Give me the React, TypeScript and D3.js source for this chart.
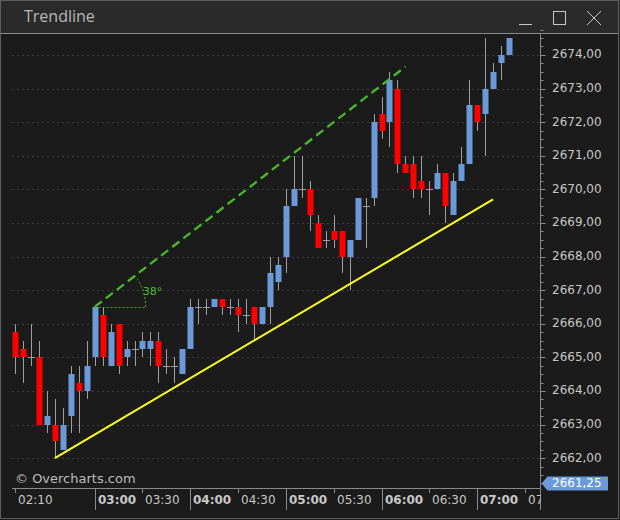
import React from "react";
import * as d3 from "d3";

const times = [
  "02:10","02:15","02:20","02:25","02:30","02:35","02:40","02:45","02:50","02:55",
  "03:00","03:05","03:10","03:15","03:20","03:25","03:30","03:35","03:40","03:45","03:50","03:55",
  "04:00","04:05","04:10","04:15","04:20","04:25","04:30","04:35","04:40","04:45","04:50","04:55",
  "05:00","05:05","05:10","05:15","05:20","05:25","05:30","05:35","05:40","05:45","05:50","05:55",
  "06:00","06:05","06:10","06:15","06:20","06:25","06:30","06:35","06:40","06:45","06:50","06:55",
  "07:00","07:05","07:10","07:15","07:20",
];
const opens = [
  2665.75,2665.25,2665,2665,2663,2663,2662.25,2663.25,2664.25,2664,
  2665,2666.25,2664.75,2666,2665,2665.25,2665.25,2665.25,2665.5,2664.75,2664.75,2664.5,
  2665.25,2666.5,2666.5,2666.5,2666.75,2666.5,2666.5,2666.25,2666.5,2666,2666.5,2667.25,
  2668,2669.5,2670,2670,2669,2668.5,2668.75,2668.75,2668,2668.5,2669.5,2669.75,
  2672.25,2672,2673,2670.75,2670.75,2670.25,2670,2670,2670.5,2669.25,2670.25,2670.75,
  2672.5,2672.25,2673,2673.75,2674,
];
const highs = [
  2666,2665.5,2666,2665.5,2664,2663.75,2663.5,2664.75,2664.75,2665.5,
  2666.5,2666.5,2666,2666,2665.5,2665.5,2665.75,2665.75,2665.75,2665.25,2665,2665.25,
  2666.75,2666.75,2666.75,2666.75,2666.75,2666.75,2666.75,2666.75,2666.5,2666.5,2668,2668,
  2670,2671,2671,2670.25,2669.25,2668.75,2669.25,2668.75,2668.5,2669.75,2669.75,2672.25,
  2672.75,2673.5,2673.25,2671,2671,2671,2670.25,2670.75,2670.5,2670.5,2671.25,2673.25,
  2672.5,2674.5,2673.75,2674.25,2674.5,
];
const lows = [
  2664.5,2664.25,2664.75,2663,2662.75,2662,2662.25,2662.75,2662.75,2663.75,
  2664.75,2664.75,2664.75,2664.5,2664.75,2664.75,2665,2664.75,2664.25,2664.5,2664.25,2664.5,
  2665.25,2666,2666.25,2666.5,2666.25,2666.25,2665.75,2666,2665.5,2666,2666,2667,
  2667.5,2669.5,2669.75,2668.75,2668.25,2668.25,2668.25,2667.5,2667,2668.5,2668.25,2669.5,
  2671.5,2671.25,2670.5,2670.5,2669.75,2669.75,2669.25,2670,2669,2669.25,2670.25,2670.75,
  2671.75,2671,2673,2673.25,2674,
];
const closes = [
  2665,2665,2665,2663,2663.25,2662.5,2663,2664.5,2664,2664.75,
  2666.5,2665,2665.75,2664.75,2665.25,2665.25,2665.5,2665.5,2664.75,2664.75,2664.75,2665.25,
  2666.5,2666.5,2666.5,2666.75,2666.5,2666.5,2666.25,2666.25,2666,2666.5,2667.5,2667.75,
  2669.5,2670,2670,2669.25,2668.25,2668.5,2668.5,2668,2668.5,2669.75,2669.5,2672,
  2671.75,2673.25,2670.75,2670.5,2670,2670,2670,2670.5,2669.5,2670.25,2670.75,2672.5,
  2672,2673,2673.5,2674,2674.5,
];
const priceTicks = [2662,2663,2664,2665,2666,2667,2668,2669,2670,2671,2672,2673,2674];
const timeTicks = ["02:10","03:00","03:30","04:00","04:30","05:00","05:30","06:00","06:30","07:00","07:30"];
const yellowLine = [{ t: "02:35", p: 2662.0 }, { t: "07:10", p: 2669.7 }];
const greenLine = [{ t: "03:00", p: 2666.5 }, { t: "06:15", p: 2673.65 }];
const markerPrice = 2661.25;
const title = "Trendline";
const watermark = "© Overcharts.com";

const toMin = (s: string) => {
  const [h, m] = s.split(":").map(Number);
  return h * 60 + m;
};

const W = 620, H = 520;
const plotLeft = 12, plotRight = 540.5, axisY = 488.5, plotTop = 34;
const FONT = "'DejaVu Sans', Verdana, sans-serif";

export default function App() {
  const x = d3.scaleLinear().domain([toMin(times[0]), toMin(times[times.length - 1])]).range([15, 509]);
  const y = d3.scaleLinear().domain([2662, 2674]).range([458.2, 54.9]);
  const fmt = (v: number) => d3.format(".2f")(v).replace(".", ",");

  const minor = d3.range(2661.25, 2674.76, 0.25);

  const blue = "#6a9bd8";
  const red = "#ff0000";
  const wick = "#a0a0a0";
  const green = "#48bb26";

  const g0 = { x: x(toMin(greenLine[0].t)), y: y(greenLine[0].p) };
  const g1 = { x: x(toMin(greenLine[1].t)), y: y(greenLine[1].p) };
  const ang = Math.atan2(g0.y - g1.y, g1.x - g0.x);
  const R = 51;
  const arcEnd = { x: g0.x + R * Math.cos(ang), y: g0.y - R * Math.sin(ang) };
  const arcPath = `M${g0.x + R},${g0.y} A${R},${R} 0 0 0 ${arcEnd.x},${arcEnd.y}`;
  const angDeg = Math.round((ang * 180) / Math.PI);

  const my = y(markerPrice);

  return (
    <svg width={W} height={H} style={{ position: "absolute", left: 0, top: 0, display: "block" }}>
      <defs>
        <clipPath id="xlab">
          <rect x={0} y={489} width={plotRight} height={30} />
        </clipPath>
      </defs>
      <rect x={0} y={0} width={W} height={H} fill="#1b1b1b" />
      <rect x={0} y={0} width={W} height={33} fill="#2a2a2a" />
      <line x1={1} x2={619} y1={33.5} y2={33.5} stroke="#8a8a8a" />
      <rect x={0.5} y={0.5} width={618} height={518} fill="none" stroke="#5e5e5e" />
      <text x={24} y={18} dominantBaseline="middle" fontFamily="'Open Sans', sans-serif" fontSize={16} fill="#b8b8b8">{title}</text>
      {/* window controls */}
      <line x1={519} x2={532} y1={24.5} y2={24.5} stroke="#c8c8c8" />
      <rect x={553.5} y={11.5} width={12} height={13} fill="none" stroke="#c8c8c8" />
      <line x1={587} y1={11} x2={601} y2={25} stroke="#c8c8c8" />
      <line x1={601} y1={11} x2={587} y2={25} stroke="#c8c8c8" />

      {/* grid */}
      {priceTicks.map((p) => (
        <line key={"g" + p} x1={plotLeft} x2={plotRight} y1={Math.round(y(p)) + 0.5} y2={Math.round(y(p)) + 0.5}
          stroke="#3e3e3e" strokeDasharray="2,3" />
      ))}

      {/* candles */}
      {times.map((t, i) => {
        const cx = Math.round(x(toMin(t)));
        const o = opens[i], c = closes[i];
        const top = Math.round(y(Math.max(o, c)));
        const bot = Math.round(y(Math.min(o, c)));
        return (
          <g key={t}>
            <line x1={cx + 0.5} x2={cx + 0.5} y1={Math.round(y(highs[i]))} y2={Math.round(y(lows[i]))} stroke={wick} />
            {o === c ? (
              <line x1={cx - 3} x2={cx + 4} y1={top + 0.5} y2={top + 0.5} stroke={wick} />
            ) : (
              <rect x={cx - 2.5} y={top} width={6} height={bot - top} fill={c > o ? blue : red} />
            )}
          </g>
        );
      })}

      {/* trendlines */}
      <line x1={x(toMin(yellowLine[0].t))} y1={y(yellowLine[0].p)} x2={x(toMin(yellowLine[1].t))} y2={y(yellowLine[1].p)}
        stroke="#ffff1e" strokeWidth={2} />
      <line x1={g0.x} y1={g0.y} x2={g1.x} y2={g1.y} stroke={green} strokeWidth={2.3} strokeDasharray="9,5" />
      <line x1={g0.x} y1={g0.y + 0.5} x2={g0.x + R} y2={g0.y + 0.5} stroke={green} strokeWidth={1} strokeDasharray="2,2" />
      <path d={arcPath} fill="none" stroke={green} strokeWidth={1} strokeDasharray="2,2" />
      <text x={g0.x + R - 3} y={g0.y - 15} dominantBaseline="middle" fontFamily={FONT} fontSize={11} fill={green}>{angDeg}°</text>

      {/* watermark */}
      <text x={15} y={479} dominantBaseline="middle" fontFamily={FONT} fontSize={13} fill="#bdbdbd">{watermark}</text>

      {/* y axis */}
      <line x1={plotRight} x2={plotRight} y1={plotTop} y2={510} stroke="#8a8a8a" />
      {minor.map((p) => (
        <line key={"m" + p} x1={plotRight} x2={plotRight + (Number.isInteger(p) ? 5 : 3)} y1={Math.round(y(p)) + 0.5} y2={Math.round(y(p)) + 0.5} stroke="#8a8a8a" />
      ))}
      {priceTicks.map((p) => (
        <text key={"yl" + p} x={552} y={y(p)} dominantBaseline="middle" fontFamily={FONT} fontSize={12} fill="#c8c8c8">{fmt(p)}</text>
      ))}
      <path d={`M${plotRight + 1},${my} L${plotRight + 7},${my - 7} L608,${my - 7} L608,${my + 7} L${plotRight + 7},${my + 7} Z`} fill={blue} />
      <text x={552} y={my} dominantBaseline="middle" fontFamily={FONT} fontSize={12} fill="#ffffff">{fmt(markerPrice)}</text>

      {/* x axis */}
      <line x1={plotLeft} x2={plotRight} y1={axisY} y2={axisY} stroke="#8a8a8a" />
      <g clipPath="url(#xlab)">
        {timeTicks.map((t) => {
          const tx = Math.round(x(toMin(t))) + 0.5;
          const hour = t.endsWith(":00");
          return (
            <g key={"xt" + t}>
              <line x1={tx} x2={tx} y1={axisY} y2={hour ? 510 : 493} stroke="#8a8a8a" />
              <text x={tx + 2.5} y={500} dominantBaseline="middle" fontFamily={FONT} fontSize={12}
                fontWeight={hour ? "bold" : "normal"} fill="#c8c8c8">{t}</text>
            </g>
          );
        })}
      </g>
    </svg>
  );
}
